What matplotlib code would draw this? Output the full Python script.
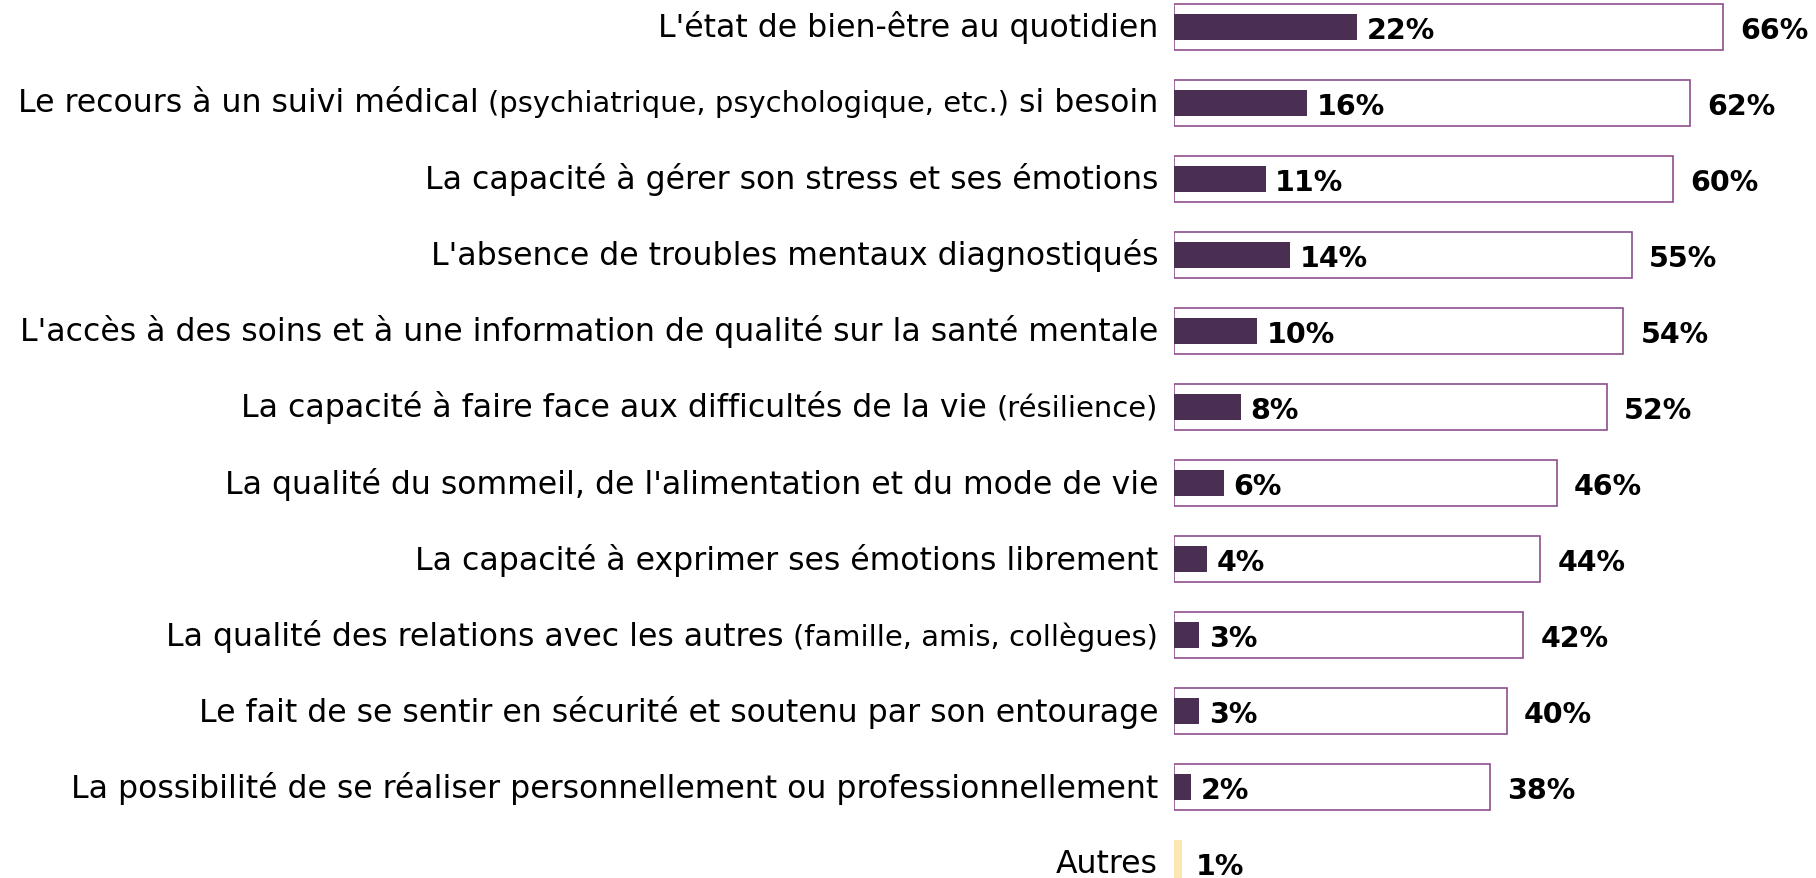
import re
import matplotlib
matplotlib.use("Agg")
import matplotlib.pyplot as plt
from matplotlib.offsetbox import TextArea, HPacker, AnnotationBbox

# données
labels = [
    "L'état de bien-être au quotidien",
    "Le recours à un suivi médical (psychiatrique, psychologique, etc.) si besoin",
    "La capacité à gérer son stress et ses émotions",
    "L'absence de troubles mentaux diagnostiqués",
    "L'accès à des soins et à une information de qualité sur la santé mentale",
    "La capacité à faire face aux difficultés de la vie (résilience)",
    "La qualité du sommeil, de l'alimentation et du mode de vie",
    "La capacité à exprimer ses émotions librement",
    "La qualité des relations avec les autres (famille, amis, collègues)",
    "Le fait de se sentir en sécurité et soutenu par son entourage",
    "La possibilité de se réaliser personnellement ou professionnellement",
]
total = [66, 62, 60, 55, 54, 52, 46, 44, 42, 40, 38]
premier = [22, 16, 11, 14, 10, 8, 6, 4, 3, 3, 2]
autres_label = "Autres"
autres_val = 1

DARK = "#4B2F52"
OUTLINE = "#8E4E8C"
YELLOW = "#FCE6B2"
FONT = "DejaVu Sans"
BOLD = "DejaVu Sans"
FS = 22.7
FS_NUM = 20.5

fig = plt.figure(figsize=(18.16, 8.79), dpi=100)
ax = fig.add_axes([1174 / 1816, 0, 1 - 1174 / 1816, 1])
ax.set_xlim(0, 77.16)
ax.set_ylim(11.197, -0.368)
ax.axis("off")

y = list(range(len(labels)))
ax.barh(y, total, height=0.6, facecolor="white", edgecolor=OUTLINE, linewidth=1.2)
ax.barh(y, premier, height=0.34, color=DARK)
ax.barh([len(labels)], [autres_val], height=0.6, color=YELLOW)

for i, (t, p) in enumerate(zip(total, premier)):
    ax.annotate(f"{p}%", (p, i), xytext=(7, -2.5), textcoords="offset points",
                va="center", ha="left", fontsize=FS_NUM, fontweight="bold", family=BOLD)
    ax.annotate(f"{t}%", (t, i), xytext=(12.5, -2.5), textcoords="offset points",
                va="center", ha="left", fontsize=FS_NUM, fontweight="bold", family=BOLD)
ax.annotate(f"{autres_val}%", (autres_val, len(labels)), xytext=(10, -2.5),
            textcoords="offset points", va="center", ha="left",
            fontsize=FS_NUM, fontweight="bold", family=BOLD)


def label_box(txt):
    # les parenthèses sont un peu plus petites
    parts = [s.strip() for s in re.split(r"(\([^)]*\))", txt) if s.strip()]
    areas = []
    for s in parts:
        size = FS * 0.92 if s.startswith("(") else FS
        areas.append(TextArea(s, textprops=dict(fontsize=size, family=FONT, color="black")))
    return HPacker(children=areas, align="baseline", pad=0, sep=7)


for i, lab in enumerate(labels + [autres_label]):
    ab = AnnotationBbox(label_box(lab), (0, i), xybox=(-11.5, 0),
                        xycoords="data", boxcoords="offset points",
                        box_alignment=(1, 0.5), frameon=False, pad=0)
    ax.add_artist(ab)

fig.savefig("out.png", dpi=100)
